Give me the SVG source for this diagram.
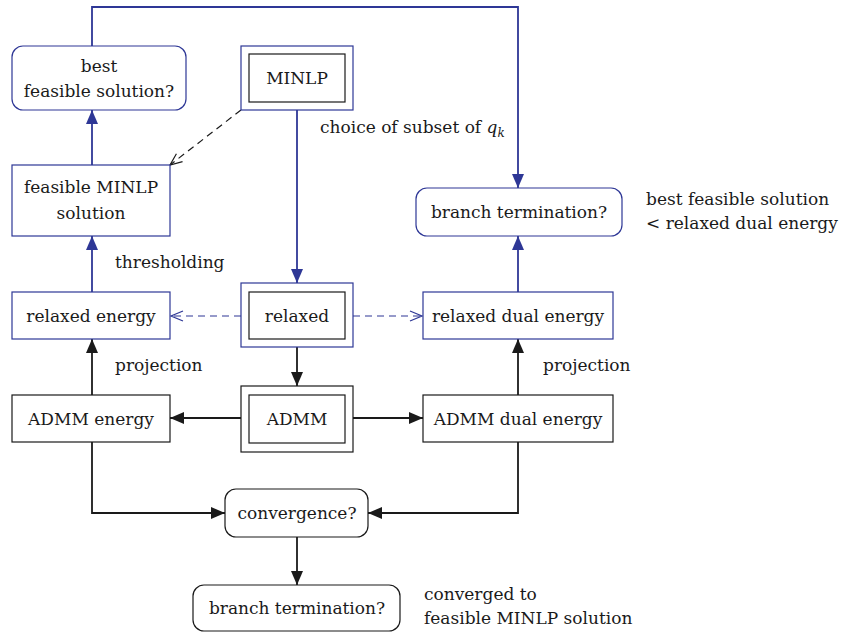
<svg xmlns="http://www.w3.org/2000/svg" width="844" height="633" viewBox="0 0 844 633">
<defs>
<style>
text{font-family:'DejaVu Serif',serif;font-size:17px;fill:#1a1a1a;}
.c{text-anchor:middle;}
.bb{fill:#fff;stroke:#2e3796;stroke-width:1.2;}
.kb{fill:#fff;stroke:#1a1a1a;stroke-width:1.2;}
.bl{fill:none;stroke:#2e3796;stroke-width:1.8;}
.kl{fill:none;stroke:#1a1a1a;stroke-width:1.8;}
.bd{fill:none;stroke:#2e3796;stroke-width:1.2;stroke-dasharray:7 5;}
.kd{fill:none;stroke:#1a1a1a;stroke-width:1.2;stroke-dasharray:7 5;}
</style>
<marker id="ab" viewBox="0 0 14 12" refX="14" refY="6" markerWidth="14" markerHeight="12" markerUnits="userSpaceOnUse" orient="auto"><path d="M0,0 L14,6 L0,12 Z" fill="#2e3796"/></marker>
<marker id="ak" viewBox="0 0 14 12" refX="14" refY="6" markerWidth="14" markerHeight="12" markerUnits="userSpaceOnUse" orient="auto"><path d="M0,0 L14,6 L0,12 Z" fill="#1a1a1a"/></marker>
<marker id="ob" viewBox="0 0 14 12" refX="13" refY="6" markerWidth="14" markerHeight="12" markerUnits="userSpaceOnUse" orient="auto"><path d="M1,1 L13,6 L1,11" fill="none" stroke="#2e3796" stroke-width="1.2"/></marker>
<marker id="ok" viewBox="0 0 14 12" refX="13" refY="6" markerWidth="14" markerHeight="12" markerUnits="userSpaceOnUse" orient="auto"><path d="M1,1 L13,6 L1,11" fill="none" stroke="#1a1a1a" stroke-width="1.2"/></marker>
</defs>
<rect width="844" height="633" fill="#fff"/>
<g id="connectors">
<path class="bl" d="M92,46 V7 H518 V188" marker-end="url(#ab)"/>
<path class="bl" d="M297,110 V283" marker-end="url(#ab)"/>
<path class="bl" d="M92,165 V110" marker-end="url(#ab)"/>
<path class="bl" d="M92,292 V236" marker-end="url(#ab)"/>
<path class="bl" d="M518,292 V236" marker-end="url(#ab)"/>
<path class="kd" d="M241,110 L170,165" marker-end="url(#ok)"/>
<path class="bd" d="M241,316 H171" marker-end="url(#ob)"/>
<path class="bd" d="M353,316 H422" marker-end="url(#ob)"/>
<path class="kl" d="M297,347 V386" marker-end="url(#ak)"/>
<path class="kl" d="M241,418 H170" marker-end="url(#ak)"/>
<path class="kl" d="M353,418 H423" marker-end="url(#ak)"/>
<path class="kl" d="M92,395 V339" marker-end="url(#ak)"/>
<path class="kl" d="M518,395 V339" marker-end="url(#ak)"/>
<path class="kl" d="M92,442 V513 H225" marker-end="url(#ak)"/>
<path class="kl" d="M518,442 V513 H368" marker-end="url(#ak)"/>
<path class="kl" d="M297,537 V585" marker-end="url(#ak)"/>
</g>
<g id="best-feasible">
<rect class="bb" x="12" y="46" width="174" height="64" rx="11"/>
<text class="c" x="99" y="72">best</text>
<text class="c" x="99" y="97">feasible solution?</text>
</g>
<g id="feasible-minlp">
<rect class="bb" x="12" y="165" width="158" height="71"/>
<text class="c" x="91" y="193">feasible MINLP</text>
<text class="c" x="91" y="219">solution</text>
</g>
<g id="minlp">
<rect class="bb" x="241" y="46" width="112" height="64" stroke-width="1.8"/>
<rect class="kb" x="249" y="54" width="96" height="48"/>
<text class="c" x="297" y="84">MINLP</text>
</g>
<g id="branch-top">
<rect class="bb" x="416" y="188" width="206" height="48" rx="11"/>
<text class="c" x="519" y="218">branch termination?</text>
</g>
<g id="relaxed-energy">
<rect class="bb" x="12" y="292" width="158" height="47"/>
<text class="c" x="91" y="322">relaxed energy</text>
</g>
<g id="relaxed">
<rect class="bb" x="241" y="283" width="112" height="64" stroke-width="1.8"/>
<rect class="kb" x="249" y="292" width="96" height="47"/>
<text class="c" x="297" y="322">relaxed</text>
</g>
<g id="relaxed-dual">
<rect class="bb" x="423" y="292" width="190" height="47"/>
<text class="c" x="518" y="322">relaxed dual energy</text>
</g>
<g id="admm-energy">
<rect class="kb" x="12" y="395" width="158" height="47"/>
<text class="c" x="91" y="425">ADMM energy</text>
</g>
<g id="admm">
<rect class="kb" x="241" y="386" width="112" height="66" stroke-width="1.8"/>
<rect class="kb" x="249" y="395" width="96" height="48"/>
<text class="c" x="297" y="425">ADMM</text>
</g>
<g id="admm-dual">
<rect class="kb" x="423" y="395" width="190" height="47"/>
<text class="c" x="518" y="425">ADMM dual energy</text>
</g>
<g id="convergence">
<rect class="kb" x="225" y="489" width="143" height="48" rx="11"/>
<text class="c" x="297" y="519">convergence?</text>
</g>
<g id="branch-bottom">
<rect class="kb" x="193" y="585" width="207" height="46" rx="11"/>
<text class="c" x="297" y="614">branch termination?</text>
</g>
<g id="labels">
<text x="320" y="133">choice of subset of <tspan font-style="italic">q</tspan><tspan font-style="italic" font-size="12" dy="4">k</tspan></text>
<text x="115" y="268">thresholding</text>
<text x="115" y="371">projection</text>
<text x="543" y="371">projection</text>
<text x="646" y="205">best feasible solution</text>
<text x="646" y="229">&lt; relaxed dual energy</text>
<text x="424" y="600">converged to</text>
<text x="424" y="624">feasible MINLP solution</text>
</g>
</svg>
